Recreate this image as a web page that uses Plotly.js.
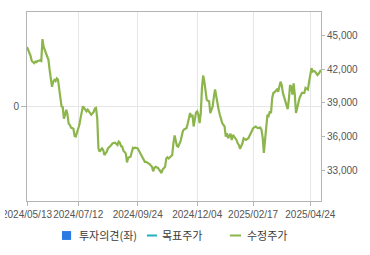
<!DOCTYPE html>
<html>
<head>
<meta charset="utf-8">
<script src="https://cdn.plot.ly/plotly-3.0.1.min.js"></script>
<style>
html,body{margin:0;padding:0;background:#fff;}
#chart{width:370px;height:255px;}
</style>
</head>
<body>
<div id="chart"></div>
<script>
// Trading-day index (from 2024/05/13) and adjusted close price (수정주가)
var tradingDay = [0,1,3,4,6,7,8,9,11,12,13,14,15,16,17,18,19,20,21,22,23,24,25,26,27,28,29,30,31,32,33,34,35,36,37,39,40,41,43,44,45,46,47,48,50,51,52,53,54,56,57,58,59,60,61,62,63,64,65,67,68,70,71,72,74,75,76,77,78,79,80,81,82,83,84,85,87,88,89,90,91,93,94,95,97,98,99,100,102,103,105,106,107,108,110,111,112,113,114,116,117,118,119,121,122,123,124,126,127,129,130,131,132,134,135,136,137,138,139,140,141,142,143,144,145,146,147,148,149,150,151,152,153,154,156,157,158,159,160,161,162,164,166,167,168,169,171,172,173,174,176,177,178,179,181,182,184,186,187,188,189,190,192,193,194,196,197,198,199,200,201,202,203,204,205,206,207,208,210,211,213,214,215,217,218,219,220,221,222,223,224,225,226,228,229,231,233,234,236,237,238,239,240,241,242,244,245,246,247];
var adjPrice = [44000,43750,43200,42750,42550,42700,42650,42750,42800,42750,44700,44000,43750,43500,43150,42850,41950,41250,40450,40900,41050,40950,41200,41100,40200,39200,38700,38650,37600,37950,38400,37950,37150,37050,36800,36700,36050,36000,36600,37050,37650,38200,38700,38550,38250,38400,38200,38100,37950,38200,38500,38550,37650,34950,34650,34800,34950,34800,34350,34650,34950,35150,35250,35400,35450,35350,35250,35550,35450,35150,35100,34750,34650,34500,33700,34100,34200,34650,35000,34950,35000,34950,34750,34450,34050,33850,33750,33750,33650,33550,33300,32900,33200,33300,33200,33050,32850,32750,33050,33300,34050,34150,34050,34200,34350,35400,36100,35150,35100,35600,36050,36500,36650,36750,37150,37600,38100,37750,37950,36900,37650,38150,38250,37950,37200,38100,40350,41450,40900,40200,39300,39200,39150,38100,38700,39550,40200,39600,38900,38400,37950,37200,36900,36000,36300,35850,36250,35700,36150,36000,35700,35400,35250,34900,35400,35850,35700,35850,36050,36300,36450,36750,36900,36850,36750,36800,36600,35900,34550,35700,37300,37950,37850,38250,38100,39450,39900,39950,40200,40000,40900,40600,39900,39150,38700,38450,39300,40600,40450,39750,40750,39750,38100,38850,39450,39900,39900,40350,40200,40900,41500,42100,41800,41850,41800,41500,41600,41800,41950];
// X tick labels and their trading-day positions
var tickDays = [0,43,93,143,190,238];
var tickLabels = ['2024/05/13','2024/07/12','2024/09/24','2024/12/04','2025/02/17','2025/04/24'];
// Right axis price ticks
var priceTicks = [33000,36000,39000,42000,45000];
// Legend names
var seriesNames = ['투자의견(좌)','목표주가','수정주가'];

var GREEN = '#8cb54c', BLUE = '#2b7be3', TEAL = '#1fb0bf';
var axisCol = '#b4b4b4', gridCol = '#e6e6e6', tickFontCol = '#555';

var traces = [
  {type:'bar', name:seriesNames[0], x:[], y:[], yaxis:'y', marker:{color:BLUE}, showlegend:false},
  {type:'scatter', mode:'lines', name:seriesNames[1], x:[], y:[], yaxis:'y2', line:{color:TEAL,width:2}, showlegend:false},
  {type:'scatter', mode:'lines', name:seriesNames[2], x:tradingDay, y:adjPrice, yaxis:'y2',
   line:{color:GREEN,width:2.2}, showlegend:false, hoverinfo:'skip'}
];

var tickFont = {family:'"Liberation Sans", Arial, sans-serif', size:10, color:tickFontCol};
var legFont = {family:'"Noto Sans CJK KR", sans-serif', size:11, color:'#3a3a3a'};

// custom legend (paper coordinates relative to the plot area)
var legY = -0.1825;
var shapes = [
  {type:'rect', xref:'paper', yref:'paper', x0:0.119, x1:0.150, y0:-0.206, y1:-0.159, fillcolor:BLUE, line:{width:0}},
  {type:'line', xref:'paper', yref:'paper', x0:0.408, x1:0.442, y0:legY, y1:legY, line:{color:TEAL,width:2}},
  {type:'line', xref:'paper', yref:'paper', x0:0.690, x1:0.728, y0:legY, y1:legY, line:{color:GREEN,width:2}},
  // container edge clipping the first date label, as in the original
  {type:'rect', xref:'paper', yref:'paper', layer:'above', x0:-0.10, x1:-0.0748, y0:-0.12, y1:-0.04, fillcolor:'#fff', line:{width:0}}
];
var annotations = [
  {xref:'paper', yref:'paper', x:0.170, y:legY, xanchor:'left', yanchor:'middle', text:seriesNames[0], showarrow:false, font:legFont},
  {xref:'paper', yref:'paper', x:0.452, y:legY, xanchor:'left', yanchor:'middle', text:seriesNames[1], showarrow:false, font:legFont},
  {xref:'paper', yref:'paper', x:0.7415, y:legY, xanchor:'left', yanchor:'middle', text:seriesNames[2], showarrow:false, font:legFont}
];

var layout = {
  width:370, height:255,
  margin:{l:27, r:49, t:12, b:54, pad:0},
  paper_bgcolor:'#fff', plot_bgcolor:'#fff',
  showlegend:false,
  xaxis:{
    range:[0,247], tickmode:'array', tickvals:tickDays, ticktext:tickLabels, tickangle:0,
    ticklabeloverflow:'allow',
    showgrid:true, gridcolor:gridCol, gridwidth:1, zeroline:false,
    showline:true, linecolor:axisCol, linewidth:1, mirror:true,
    ticks:'outside', ticklen:4, tickcolor:axisCol, tickfont:tickFont, fixedrange:true
  },
  yaxis:{
    range:[-1,1], tickmode:'array', tickvals:[0], ticktext:['0'],
    showgrid:true, gridcolor:gridCol, zeroline:false,
    showline:true, linecolor:axisCol, linewidth:1,
    ticks:'outside', ticklen:5, tickcolor:axisCol, tickfont:tickFont, fixedrange:true
  },
  yaxis2:{
    overlaying:'y', side:'right', range:[30250,47120], tickmode:'array', tickvals:priceTicks,
    tickformat:',d', showgrid:false, zeroline:false,
    showline:true, linecolor:axisCol, linewidth:1,
    ticks:'outside', ticklen:3, tickcolor:axisCol, tickfont:tickFont, fixedrange:true
  },
  shapes:shapes,
  annotations:annotations
};

Plotly.newPlot('chart', traces, layout, {displayModeBar:false, staticPlot:true});
</script>
</body>
</html>
